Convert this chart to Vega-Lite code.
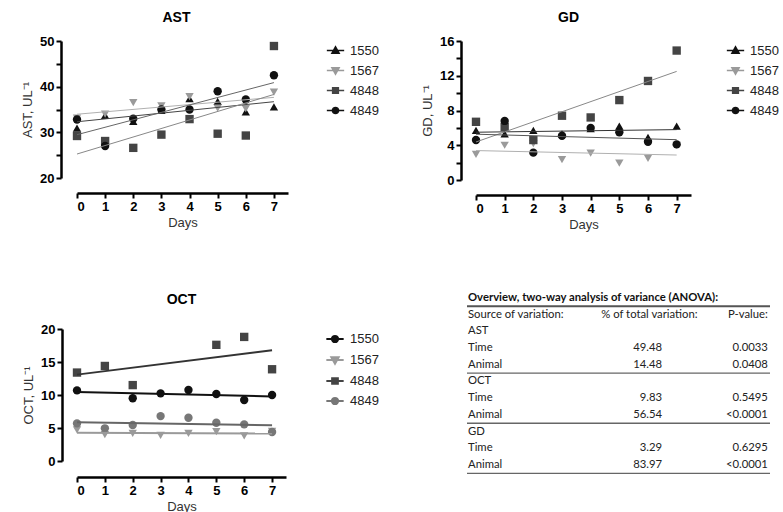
{
  "$schema": "https://vega.github.io/schema/vega-lite/v6.json",
  "padding": {"left": 21, "top": 11, "right": 0, "bottom": 0},
  "background": "white",
  "config": {
    "font": "Liberation Sans",
    "view": {"stroke": null},
    "axis": {
      "grid": false,
      "domainColor": "#000",
      "domainWidth": 2.5,
      "tickColor": "#000",
      "tickWidth": 2,
      "tickSize": 5,
      "labelFont": "Liberation Sans",
      "labelFontWeight": "bold",
      "labelFontSize": 13,
      "labelColor": "#000",
      "labelPadding": 2,
      "titleFont": "Liberation Sans",
      "titleFontWeight": "normal",
      "titleFontSize": 13,
      "titleColor": "#333"
    },
    "legend": {
      "title": null,
      "padding": 0,
      "symbolSize": 300,
      "symbolStrokeWidth": 1.5,
      "labelFont": "Liberation Sans",
      "labelFontSize": 13,
      "labelColor": "#222",
      "rowPadding": 3,
      "labelOffset": 5
    },
    "title": {"font": "Liberation Sans", "fontSize": 14, "fontWeight": "bold", "color": "#000"}
  },
  "datasets": {
    "ast": [
      {"animal": "1550", "day": 0, "value": 30.9}, {"animal": "1550", "day": 1, "value": 33.7}, {"animal": "1550", "day": 2, "value": 32.4}, {"animal": "1550", "day": 3, "value": 34.8},
      {"animal": "1550", "day": 4, "value": 37.4}, {"animal": "1550", "day": 5, "value": 36.8}, {"animal": "1550", "day": 6, "value": 34.5}, {"animal": "1550", "day": 7, "value": 35.6},
      {"animal": "1567", "day": 0, "value": 33.1}, {"animal": "1567", "day": 1, "value": 34.0}, {"animal": "1567", "day": 2, "value": 36.5}, {"animal": "1567", "day": 3, "value": 35.8},
      {"animal": "1567", "day": 4, "value": 37.8}, {"animal": "1567", "day": 5, "value": 35.3}, {"animal": "1567", "day": 6, "value": 35.2}, {"animal": "1567", "day": 7, "value": 38.8},
      {"animal": "4848", "day": 0, "value": 29.2}, {"animal": "4848", "day": 1, "value": 28.1}, {"animal": "4848", "day": 2, "value": 26.6}, {"animal": "4848", "day": 3, "value": 29.5},
      {"animal": "4848", "day": 4, "value": 32.9}, {"animal": "4848", "day": 5, "value": 29.7}, {"animal": "4848", "day": 6, "value": 29.3}, {"animal": "4848", "day": 7, "value": 48.9},
      {"animal": "4849", "day": 0, "value": 32.8}, {"animal": "4849", "day": 1, "value": 27.0}, {"animal": "4849", "day": 2, "value": 33.0}, {"animal": "4849", "day": 3, "value": 35.0},
      {"animal": "4849", "day": 4, "value": 35.0}, {"animal": "4849", "day": 5, "value": 39.0}, {"animal": "4849", "day": 6, "value": 37.2}, {"animal": "4849", "day": 7, "value": 42.5}
    ],
    "gd": [
      {"animal": "1550", "day": 0, "value": 5.7}, {"animal": "1550", "day": 1, "value": 5.3}, {"animal": "1550", "day": 2, "value": 5.7}, {"animal": "1550", "day": 3, "value": 5.3},
      {"animal": "1550", "day": 4, "value": 5.9}, {"animal": "1550", "day": 5, "value": 6.2}, {"animal": "1550", "day": 6, "value": 4.9}, {"animal": "1550", "day": 7, "value": 6.2},
      {"animal": "1567", "day": 0, "value": 2.95}, {"animal": "1567", "day": 1, "value": 4.0}, {"animal": "1567", "day": 2, "value": 4.2}, {"animal": "1567", "day": 3, "value": 2.35},
      {"animal": "1567", "day": 4, "value": 3.1}, {"animal": "1567", "day": 5, "value": 1.95}, {"animal": "1567", "day": 6, "value": 2.5}, {"animal": "1567", "day": 7, "value": 4.0},
      {"animal": "4848", "day": 0, "value": 6.7}, {"animal": "4848", "day": 1, "value": 6.1}, {"animal": "4848", "day": 2, "value": 4.6}, {"animal": "4848", "day": 3, "value": 7.4},
      {"animal": "4848", "day": 4, "value": 7.2}, {"animal": "4848", "day": 5, "value": 9.2}, {"animal": "4848", "day": 6, "value": 11.4}, {"animal": "4848", "day": 7, "value": 14.9},
      {"animal": "4849", "day": 0, "value": 4.6}, {"animal": "4849", "day": 1, "value": 6.8}, {"animal": "4849", "day": 2, "value": 3.15}, {"animal": "4849", "day": 3, "value": 5.1},
      {"animal": "4849", "day": 4, "value": 6.0}, {"animal": "4849", "day": 5, "value": 5.5}, {"animal": "4849", "day": 6, "value": 4.4}, {"animal": "4849", "day": 7, "value": 4.1}
    ],
    "oct": [
      {"animal": "1550", "day": 0, "value": 10.7}, {"animal": "1550", "day": 2, "value": 9.5}, {"animal": "1550", "day": 3, "value": 10.25},
      {"animal": "1550", "day": 4, "value": 10.75}, {"animal": "1550", "day": 5, "value": 10.15}, {"animal": "1550", "day": 6, "value": 9.25}, {"animal": "1550", "day": 7, "value": 10.0},
      {"animal": "1567", "day": 0, "value": 4.7}, {"animal": "1567", "day": 1, "value": 4.0}, {"animal": "1567", "day": 2, "value": 4.2}, {"animal": "1567", "day": 3, "value": 3.9},
      {"animal": "1567", "day": 4, "value": 4.2}, {"animal": "1567", "day": 5, "value": 4.45}, {"animal": "1567", "day": 6, "value": 3.8}, {"animal": "1567", "day": 7, "value": 4.5},
      {"animal": "4848", "day": 0, "value": 13.4}, {"animal": "4848", "day": 1, "value": 14.4}, {"animal": "4848", "day": 2, "value": 11.5},
      {"animal": "4848", "day": 5, "value": 17.6}, {"animal": "4848", "day": 6, "value": 18.8}, {"animal": "4848", "day": 7, "value": 13.9},
      {"animal": "4849", "day": 0, "value": 5.7}, {"animal": "4849", "day": 1, "value": 4.95}, {"animal": "4849", "day": 2, "value": 5.45}, {"animal": "4849", "day": 3, "value": 6.8},
      {"animal": "4849", "day": 4, "value": 6.55}, {"animal": "4849", "day": 5, "value": 5.8}, {"animal": "4849", "day": 6, "value": 5.55}, {"animal": "4849", "day": 7, "value": 4.4}
    ],
    "table": [
      {"r": 0, "kind": "title", "label": "Overview, two-way analysis of variance (ANOVA):", "pct": "", "p": ""},
      {"r": 1, "kind": "head", "label": "Source of variation:", "pct": "% of total variation:", "p": "P-value:"},
      {"r": 2, "kind": "body", "label": "AST", "pct": "", "p": ""},
      {"r": 3, "kind": "body", "label": "\u00a0Time", "pct": "49.48", "p": "0.0033"},
      {"r": 4, "kind": "body", "label": "\u00a0Animal", "pct": "14.48", "p": "0.0408"},
      {"r": 5, "kind": "body", "label": "OCT", "pct": "", "p": ""},
      {"r": 6, "kind": "body", "label": "\u00a0Time", "pct": "9.83", "p": "0.5495"},
      {"r": 7, "kind": "body", "label": "\u00a0Animal", "pct": "56.54", "p": "<0.0001"},
      {"r": 8, "kind": "body", "label": "GD", "pct": "", "p": ""},
      {"r": 9, "kind": "body", "label": "\u00a0Time", "pct": "3.29", "p": "0.6295"},
      {"r": 10, "kind": "body", "label": "\u00a0Animal", "pct": "83.97", "p": "<0.0001"}
    ],
    "tlines": [
      {"r": 0.5, "kind": "head"},
      {"r": 4.5, "kind": "section"},
      {"r": 7.5, "kind": "section"},
      {"r": 10.5, "kind": "section"}
    ]
  },
  "spacing": 61,
  "resolve": {"scale": {"color": "independent", "shape": "independent", "fill": "independent", "stroke": "independent"}},
  "vconcat": [
    {
      "spacing": 42,
      "resolve": {"scale": {"color": "independent", "shape": "independent", "fill": "independent", "stroke": "independent"}},
      "hconcat": [
        {
          "width": 211, "height": 137,
          "title": {"text": "AST", "dx": -6, "offset": 10},
          "data": {"name": "ast"},
          "encoding": {
            "x": {"field": "day", "type": "quantitative", "scale": {"domain": [0, 7.5], "nice": false, "zero": false},
                  "axis": {"title": "Days", "values": [0, 1, 2, 3, 4, 5, 6, 7], "offset": 15, "titlePadding": 3}},
            "y": {"field": "value", "type": "quantitative", "scale": {"domain": [20, 50], "nice": false, "zero": false},
                  "axis": {"title": "AST, UL⁻¹", "values": [20, 25, 30, 35, 40, 45, 50], "labelExpr": "datum.value % 10 === 0 ? datum.label : ''", "offset": 16, "titlePadding": 5}}
          },
          "layer": [
            {
              "mark": {"type": "point", "filled": true, "size": 70, "opacity": 1},
              "encoding": {
                "color": {"field": "animal", "type": "nominal", "scale": {"domain": ["1550", "1567", "4848", "4849"], "range": ["#111111", "#9a9a9a", "#444444", "#111111"]}, "legend": null},
                "shape": {"field": "animal", "type": "nominal", "scale": {"domain": ["1550", "1567", "4848", "4849"], "range": ["triangle-up", "triangle-down", "square", "circle"]}, "legend": null}
              }
            },
            {
              "transform": [{"regression": "value", "on": "day", "groupby": ["animal"], "extent": [0, 7]}],
              "mark": {"type": "line", "strokeWidth": 1},
              "encoding": {
                "color": {"field": "animal", "type": "nominal", "scale": {"domain": ["1550", "1567", "4848", "4849"], "range": ["#444444", "#b0b0b0", "#888888", "#666666"]}, "legend": null}
              }
            },
            {
              "transform": [{"filter": "datum.day < 0"}],
              "mark": {"type": "point", "filled": true, "opacity": 1, "strokeWidth": 1.5},
              "encoding": {
                "fill": {"field": "animal", "type": "nominal", "scale": {"domain": ["1550", "1567", "4848", "4849"], "range": ["#111111", "#9a9a9a", "#444444", "#111111"]}, "legend": {"orient": "right", "offset": 38}},
                "stroke": {"field": "animal", "type": "nominal", "scale": {"domain": ["1550", "1567", "4848", "4849"], "range": ["#111111", "#9a9a9a", "#444444", "#111111"]}, "legend": {"orient": "right", "offset": 38}},
                "shape": {"field": "animal", "type": "nominal", "scale": {"domain": ["1550", "1567", "4848", "4849"], "range": ["M-1,0H1M-0.42,0.32L0,-0.42L0.42,0.32Z", "M-1,0H1M-0.42,-0.32L0,0.42L0.42,-0.32Z", "M-1,0H1M-0.33,-0.33H0.33V0.33H-0.33Z", "M-1,0H1M-0.36,0A0.36,0.36,0,1,0,0.36,0A0.36,0.36,0,1,0,-0.36,0Z"]}, "legend": {"orient": "right", "offset": 38}}
              }
            }
          ],
          "resolve": {"scale": {"color": "independent", "shape": "independent", "fill": "independent", "stroke": "independent"}}
        },
        {
          "width": 215, "height": 139,
          "title": {"text": "GD", "dx": -15, "offset": 10},
          "data": {"name": "gd"},
          "encoding": {
            "x": {"field": "day", "type": "quantitative", "scale": {"domain": [0, 7.5], "nice": false, "zero": false},
                  "axis": {"title": "Days", "values": [0, 1, 2, 3, 4, 5, 6, 7], "offset": 15, "titlePadding": 3}},
            "y": {"field": "value", "type": "quantitative", "scale": {"domain": [0, 16], "nice": false},
                  "axis": {"title": "GD, UL⁻¹", "values": [0, 2, 4, 6, 8, 10, 12, 14, 16], "labelExpr": "datum.value % 4 === 0 ? datum.label : ''", "offset": 15, "titlePadding": 5}}
          },
          "layer": [
            {
              "mark": {"type": "point", "filled": true, "size": 70, "opacity": 1},
              "encoding": {
                "color": {"field": "animal", "type": "nominal", "scale": {"domain": ["1550", "1567", "4848", "4849"], "range": ["#111111", "#9a9a9a", "#444444", "#111111"]}, "legend": null},
                "shape": {"field": "animal", "type": "nominal", "scale": {"domain": ["1550", "1567", "4848", "4849"], "range": ["triangle-up", "triangle-down", "square", "circle"]}, "legend": null}
              }
            },
            {
              "transform": [{"regression": "value", "on": "day", "groupby": ["animal"], "extent": [0, 7]}],
              "mark": {"type": "line", "strokeWidth": 1},
              "encoding": {
                "color": {"field": "animal", "type": "nominal", "scale": {"domain": ["1550", "1567", "4848", "4849"], "range": ["#333333", "#b0b0b0", "#888888", "#555555"]}, "legend": null}
              }
            },
            {
              "transform": [{"filter": "datum.day < 0"}],
              "mark": {"type": "point", "filled": true, "opacity": 1, "strokeWidth": 1.5},
              "encoding": {
                "fill": {"field": "animal", "type": "nominal", "scale": {"domain": ["1550", "1567", "4848", "4849"], "range": ["#111111", "#9a9a9a", "#444444", "#111111"]}, "legend": {"orient": "right", "offset": 35}},
                "stroke": {"field": "animal", "type": "nominal", "scale": {"domain": ["1550", "1567", "4848", "4849"], "range": ["#111111", "#9a9a9a", "#444444", "#111111"]}, "legend": {"orient": "right", "offset": 35}},
                "shape": {"field": "animal", "type": "nominal", "scale": {"domain": ["1550", "1567", "4848", "4849"], "range": ["M-1,0H1M-0.42,0.32L0,-0.42L0.42,0.32Z", "M-1,0H1M-0.42,-0.32L0,0.42L0.42,-0.32Z", "M-1,0H1M-0.33,-0.33H0.33V0.33H-0.33Z", "M-1,0H1M-0.36,0A0.36,0.36,0,1,0,0.36,0A0.36,0.36,0,1,0,-0.36,0Z"]}, "legend": {"orient": "right", "offset": 35}}
              }
            }
          ],
          "resolve": {"scale": {"color": "independent", "shape": "independent", "fill": "independent", "stroke": "independent"}}
        }
      ]
    },
    {
      "spacing": 87,
      "resolve": {"scale": {"color": "independent", "shape": "independent", "fill": "independent", "stroke": "independent"}},
      "hconcat": [
        {
          "width": 209, "height": 132,
          "title": {"text": "OCT", "offset": 16},
          "data": {"name": "oct"},
          "encoding": {
            "x": {"field": "day", "type": "quantitative", "scale": {"domain": [0, 7.5], "nice": false, "zero": false},
                  "axis": {"title": "Days", "values": [0, 1, 2, 3, 4, 5, 6, 7], "offset": 16, "titlePadding": 3}},
            "y": {"field": "value", "type": "quantitative", "scale": {"domain": [0, 20], "nice": false},
                  "axis": {"title": "OCT, UL⁻¹", "values": [0, 5, 10, 15, 20], "offset": 15, "titlePadding": 5}}
          },
          "layer": [
            {
              "mark": {"type": "point", "filled": true, "size": 70, "opacity": 1},
              "encoding": {
                "color": {"field": "animal", "type": "nominal", "scale": {"domain": ["1550", "1567", "4848", "4849"], "range": ["#111111", "#9a9a9a", "#444444", "#777777"]}, "legend": null},
                "shape": {"field": "animal", "type": "nominal", "scale": {"domain": ["1550", "1567", "4848", "4849"], "range": ["circle", "triangle-down", "square", "circle"]}, "legend": null}
              }
            },
            {
              "transform": [{"regression": "value", "on": "day", "groupby": ["animal"], "extent": [0, 7]}],
              "mark": {"type": "line", "strokeWidth": 2},
              "encoding": {
                "color": {"field": "animal", "type": "nominal", "scale": {"domain": ["1550", "1567", "4848", "4849"], "range": ["#111111", "#9a9a9a", "#333333", "#666666"]}, "legend": null}
              }
            },
            {
              "transform": [{"filter": "datum.day < 0"}],
              "mark": {"type": "point", "filled": true, "opacity": 1, "strokeWidth": 2},
              "encoding": {
                "fill": {"field": "animal", "type": "nominal", "scale": {"domain": ["1550", "1567", "4848", "4849"], "range": ["#111111", "#9a9a9a", "#444444", "#777777"]}, "legend": {"orient": "right", "offset": 39, "symbolStrokeWidth": 2}},
                "stroke": {"field": "animal", "type": "nominal", "scale": {"domain": ["1550", "1567", "4848", "4849"], "range": ["#111111", "#9a9a9a", "#444444", "#777777"]}, "legend": {"orient": "right", "offset": 39, "symbolStrokeWidth": 2}},
                "shape": {"field": "animal", "type": "nominal", "scale": {"domain": ["1550", "1567", "4848", "4849"], "range": ["M-1,0H1M-0.36,0A0.36,0.36,0,1,0,0.36,0A0.36,0.36,0,1,0,-0.36,0Z", "M-1,0H1M-0.42,-0.32L0,0.42L0.42,-0.32Z", "M-1,0H1M-0.33,-0.33H0.33V0.33H-0.33Z", "M-1,0H1M-0.36,0A0.36,0.36,0,1,0,0.36,0A0.36,0.36,0,1,0,-0.36,0Z"]}, "legend": {"orient": "right", "offset": 39, "symbolStrokeWidth": 2}}
              }
            }
          ],
          "resolve": {"scale": {"color": "independent", "shape": "independent", "fill": "independent", "stroke": "independent"}}
        },
        {
          "width": 303, "height": 145,
          "data": {"name": "table"},
          "encoding": {
            "y": {"field": "r", "type": "quantitative", "scale": {"domain": [1.856, 10.54], "nice": false, "zero": false, "reverse": true}, "axis": null}
          },
          "layer": [
            {
              "transform": [{"filter": "datum.kind === 'title'"}],
              "mark": {"type": "text", "align": "left", "baseline": "middle", "font": "Lato", "fontSize": 11.3, "fontWeight": "bold", "color": "#111", "dx": 1},
              "encoding": {
                "x": {"datum": 0, "type": "quantitative", "scale": {"domain": [0, 1], "nice": false, "zero": false}, "axis": null},
                "text": {"field": "label"}
              }
            },
            {
              "transform": [{"filter": "datum.kind !== 'title'"}],
              "mark": {"type": "text", "align": "left", "baseline": "middle", "font": "Lato", "fontSize": 11.3, "color": "#222", "dx": 1},
              "encoding": {
                "x": {"datum": 0, "type": "quantitative"},
                "text": {"field": "label"}
              }
            },
            {
              "transform": [{"filter": "datum.kind === 'head'"}],
              "mark": {"type": "text", "align": "center", "baseline": "middle", "font": "Lato", "fontSize": 11.3, "color": "#222"},
              "encoding": {
                "x": {"datum": 0.602, "type": "quantitative"},
                "text": {"field": "pct"}
              }
            },
            {
              "transform": [{"filter": "datum.kind === 'body'"}],
              "mark": {"type": "text", "align": "right", "baseline": "middle", "font": "Lato", "fontSize": 11.3, "color": "#222"},
              "encoding": {
                "x": {"datum": 0.644, "type": "quantitative"},
                "text": {"field": "pct"}
              }
            },
            {
              "transform": [{"filter": "datum.kind !== 'title'"}],
              "mark": {"type": "text", "align": "right", "baseline": "middle", "font": "Lato", "fontSize": 11.3, "color": "#222"},
              "encoding": {
                "x": {"datum": 0.993, "type": "quantitative"},
                "text": {"field": "p"}
              }
            },
            {
              "data": {"name": "tlines"},
              "transform": [{"filter": "datum.kind === 'head'"}],
              "mark": {"type": "rule", "color": "#555", "strokeWidth": 2},
              "encoding": {
                "x": {"datum": 0, "type": "quantitative"},
                "x2": {"datum": 1},
                "y": {"field": "r", "type": "quantitative"}
              }
            },
            {
              "data": {"name": "tlines"},
              "transform": [{"filter": "datum.kind === 'section'"}],
              "mark": {"type": "rule", "color": "#666", "strokeWidth": 1.3},
              "encoding": {
                "x": {"datum": 0, "type": "quantitative"},
                "x2": {"datum": 1},
                "y": {"field": "r", "type": "quantitative"}
              }
            }
          ]
        }
      ]
    }
  ]
}
